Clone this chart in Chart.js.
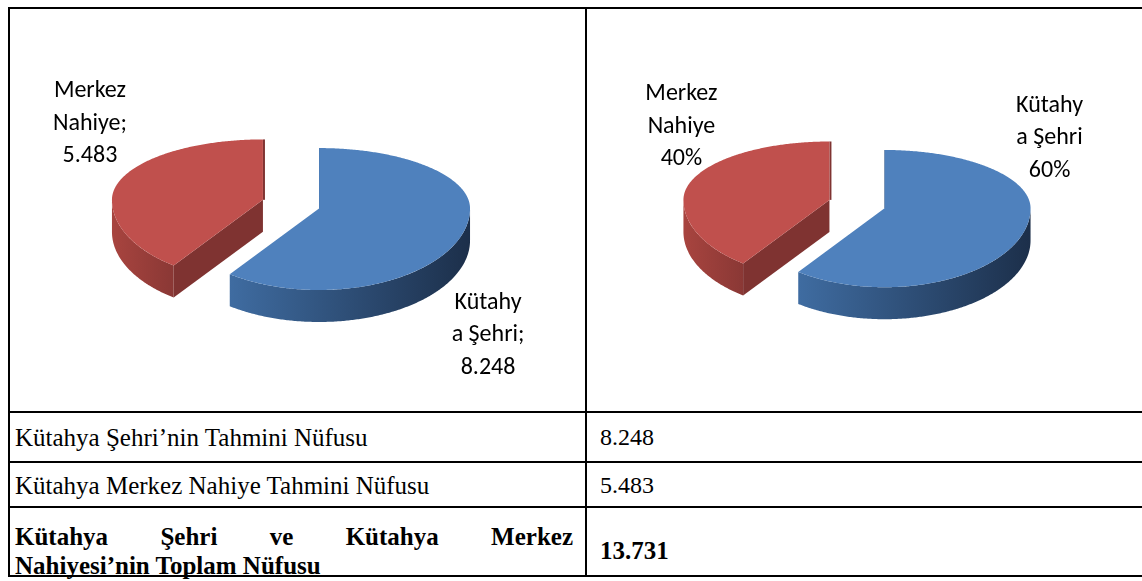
<!DOCTYPE html>
<html>
<head>
<meta charset="utf-8">
<script src="https://cdn.jsdelivr.net/npm/chart.js@4.4.1/dist/chart.umd.min.js"></script>
<style>
  html, body { margin: 0; padding: 0; background: #fff; width: 1142px; height: 581px; overflow: hidden; }
  .hl { position: absolute; left: 8px; width: 1140px; height: 2px; background: #000; }
  .vl { position: absolute; top: 7px; width: 2px; height: 570px; background: #000; }
  .t { position: absolute; font-family: 'Liberation Serif', 'Times New Roman', serif; font-size: 25px; line-height: 29px; color: #000; white-space: nowrap; }
  .b { font-weight: bold; }
  canvas { position: absolute; }
</style>
</head>
<body>
<div class="hl" style="top:7px"></div>
<div class="hl" style="top:411px"></div>
<div class="hl" style="top:461px"></div>
<div class="hl" style="top:506px"></div>
<div class="hl" style="top:575px"></div>
<div class="vl" style="left:8px"></div>
<div class="vl" style="left:585px"></div>

<canvas id="pieValues" width="575" height="402" style="left:10px; top:9px"></canvas>
<canvas id="piePercent" width="555" height="402" style="left:587px; top:9px"></canvas>

<div class="t" id="r1" style="left:15px; top:423px"></div>
<div class="t" id="r2" style="left:15px; top:471px"></div>
<div class="t b" id="r3" style="left:15px; top:522px; width:558px; white-space:normal">
  <div id="r3a" style="text-align:justify; text-align-last:justify"></div>
  <div id="r3b"></div>
</div>
<div class="t" id="v1" style="left:600px; top:423px; font-size:24px"></div>
<div class="t" id="v2" style="left:600px; top:471px; font-size:24px"></div>
<div class="t b" id="v3" style="left:600px; top:536px"></div>

<script>
// data
const categories = ['Kütahya Şehri', 'Merkez Nahiye'];
const labelLines = [['Kütahy', 'a Şehri'], ['Merkez', 'Nahiye']];
const populations = [8248, 5483];
const rowLabels = [
  'Kütahya Şehri’nin Tahmini Nüfusu',
  'Kütahya Merkez Nahiye Tahmini Nüfusu',
  'Kütahya Şehri ve Kütahya Merkez',
  'Nahiyesi’nin Toplam Nüfusu'
];

const sliceColors = ['#4F81BD', '#C0504D'];
const wallColors = [['#3F6CA1', '#1C2F4A'], ['#A8443F', '#8A3835']];
const faceColors = ['#1F3552', '#7F3331'];

const fmt = n => String(n).replace(/\B(?=(\d{3})+(?!\d))/g, '.');
const total = populations.reduce((a, b) => a + b, 0);

document.getElementById('r1').textContent = rowLabels[0];
document.getElementById('r2').textContent = rowLabels[1];
document.getElementById('r3a').textContent = rowLabels[2];
document.getElementById('r3b').textContent = rowLabels[3];
document.getElementById('v1').textContent = fmt(populations[0]);
document.getElementById('v2').textContent = fmt(populations[1]);
document.getElementById('v3').textContent = fmt(total);

// fake 3D exploded pie, drawn from the arc elements Chart.js lays out
const pie3d = {
  id: 'pie3d',
  beforeDatasetsDraw(chart, args, opts) {
    const ctx = chart.ctx;
    const arcs = chart.getDatasetMeta(0).data;
    const { explode, kTop, kBottom, depth } = opts;
    const ky = t => (Math.sin(t) < 0 ? kTop : kBottom);

    const geo = arcs.map((a, i) => {
      const mid = (a.startAngle + a.endAngle) / 2;
      return {
        i, s: a.startAngle, e: a.endAngle, r: a.outerRadius,
        cx: a.x + explode * Math.cos(mid),
        cy: a.y + explode * Math.sin(mid) * ky(mid),
        color: a.options.backgroundColor
      };
    });
    chart.$pie3d = geo;

    const pt = (g, t, dy = 0) => [g.cx + g.r * Math.cos(t), g.cy + g.r * Math.sin(t) * ky(t) + dy];
    const samples = (lo, hi) => {
      const n = Math.max(2, Math.ceil((hi - lo) / 0.01));
      const out = [];
      for (let k = 0; k <= n; k++) out.push(lo + (hi - lo) * k / n);
      return out;
    };

    // side walls (front half only)
    geo.forEach(g => {
      [[0, Math.PI], [2 * Math.PI, 3 * Math.PI], [-2 * Math.PI, -Math.PI]].forEach(([a0, a1]) => {
        const lo = Math.max(g.s, a0), hi = Math.min(g.e, a1);
        if (hi <= lo) return;
        const ts = samples(lo, hi);
        const top = ts.map(t => pt(g, t));
        const bot = ts.slice().reverse().map(t => pt(g, t, depth));
        const xs = top.map(p => p[0]);
        const grad = ctx.createLinearGradient(Math.min(...xs), 0, Math.max(...xs), 0);
        grad.addColorStop(0, wallColors[g.i][0]);
        grad.addColorStop(1, wallColors[g.i][1]);
        ctx.beginPath();
        top.concat(bot).forEach((p, k) => (k ? ctx.lineTo(p[0], p[1]) : ctx.moveTo(p[0], p[1])));
        ctx.closePath();
        ctx.fillStyle = grad;
        ctx.fill();
      });
    });

    // cut faces facing the viewer
    geo.forEach(g => {
      [[g.s, -Math.cos(g.s)], [g.e, Math.cos(g.e)]].forEach(([t, facing]) => {
        const p = pt(g, t), q = pt(g, t, depth);
        if (facing > 0.02) {
          ctx.beginPath();
          ctx.moveTo(g.cx, g.cy);
          ctx.lineTo(p[0], p[1]);
          ctx.lineTo(q[0], q[1]);
          ctx.lineTo(g.cx, g.cy + depth);
          ctx.closePath();
          ctx.fillStyle = faceColors[g.i];
          ctx.fill();
        } else if (Math.abs(facing) <= 0.02) {
          ctx.beginPath();
          ctx.moveTo(g.cx + 1, g.cy);
          ctx.lineTo(p[0] + 1, p[1]);
          ctx.strokeStyle = faceColors[g.i];
          ctx.lineWidth = 2;
          ctx.stroke();
        }
      });
    });

    // top faces
    geo.forEach(g => {
      ctx.beginPath();
      ctx.moveTo(g.cx, g.cy);
      samples(g.s, g.e).forEach(t => { const p = pt(g, t); ctx.lineTo(p[0], p[1]); });
      ctx.closePath();
      ctx.fillStyle = g.color;
      ctx.fill();
    });
    return false;
  },
  afterDraw(chart, args, opts) {
    const ctx = chart.ctx;
    const geo = chart.$pie3d || [];
    ctx.save();
    ctx.font = opts.font;
    ctx.fillStyle = '#000';
    ctx.textAlign = 'center';
    ctx.textBaseline = 'middle';
    geo.forEach(g => {
      const lines = opts.lines(g.i);
      const [dx, dy] = opts.labelOffsets[g.i];
      lines.forEach((s, k) => {
        ctx.fillText(s, g.cx + dx, g.cy + dy + (k - 1) * opts.lineHeight);
      });
    });
    ctx.restore();
  }
};

function makePie(id, radius, padding, explode, labelOffsets, lines) {
  new Chart(document.getElementById(id), {
    type: 'pie',
    data: {
      labels: categories,
      datasets: [{ data: populations, backgroundColor: sliceColors, borderWidth: 0 }]
    },
    options: {
      responsive: false,
      animation: false,
      radius: radius,
      layout: { padding: padding },
      events: [],
      plugins: {
        legend: { display: false },
        tooltip: { enabled: false },
        pie3d: {
          explode: explode, kTop: 0.40, kBottom: 0.54, depth: 32,
          labelOffsets: labelOffsets,
          lines: lines,
          font: '24px Carlito, Calibri, Lato, sans-serif',
          lineHeight: 32.5
        }
      }
    },
    plugins: [pie3d]
  });
}

makePie('pieValues', 151, { right: 13, bottom: 13 }, 29.5,
  [[169, 127], [-173, -76]],
  i => [labelLines[i][0], labelLines[i][1] + ';', fmt(populations[i])]);

makePie('piePercent', 146, { right: 15, bottom: 13 }, 29,
  [[165, -70], [-148, -73]],
  i => [labelLines[i][0], labelLines[i][1], Math.round(populations[i] / total * 100) + '%']);
</script>
</body>
</html>
